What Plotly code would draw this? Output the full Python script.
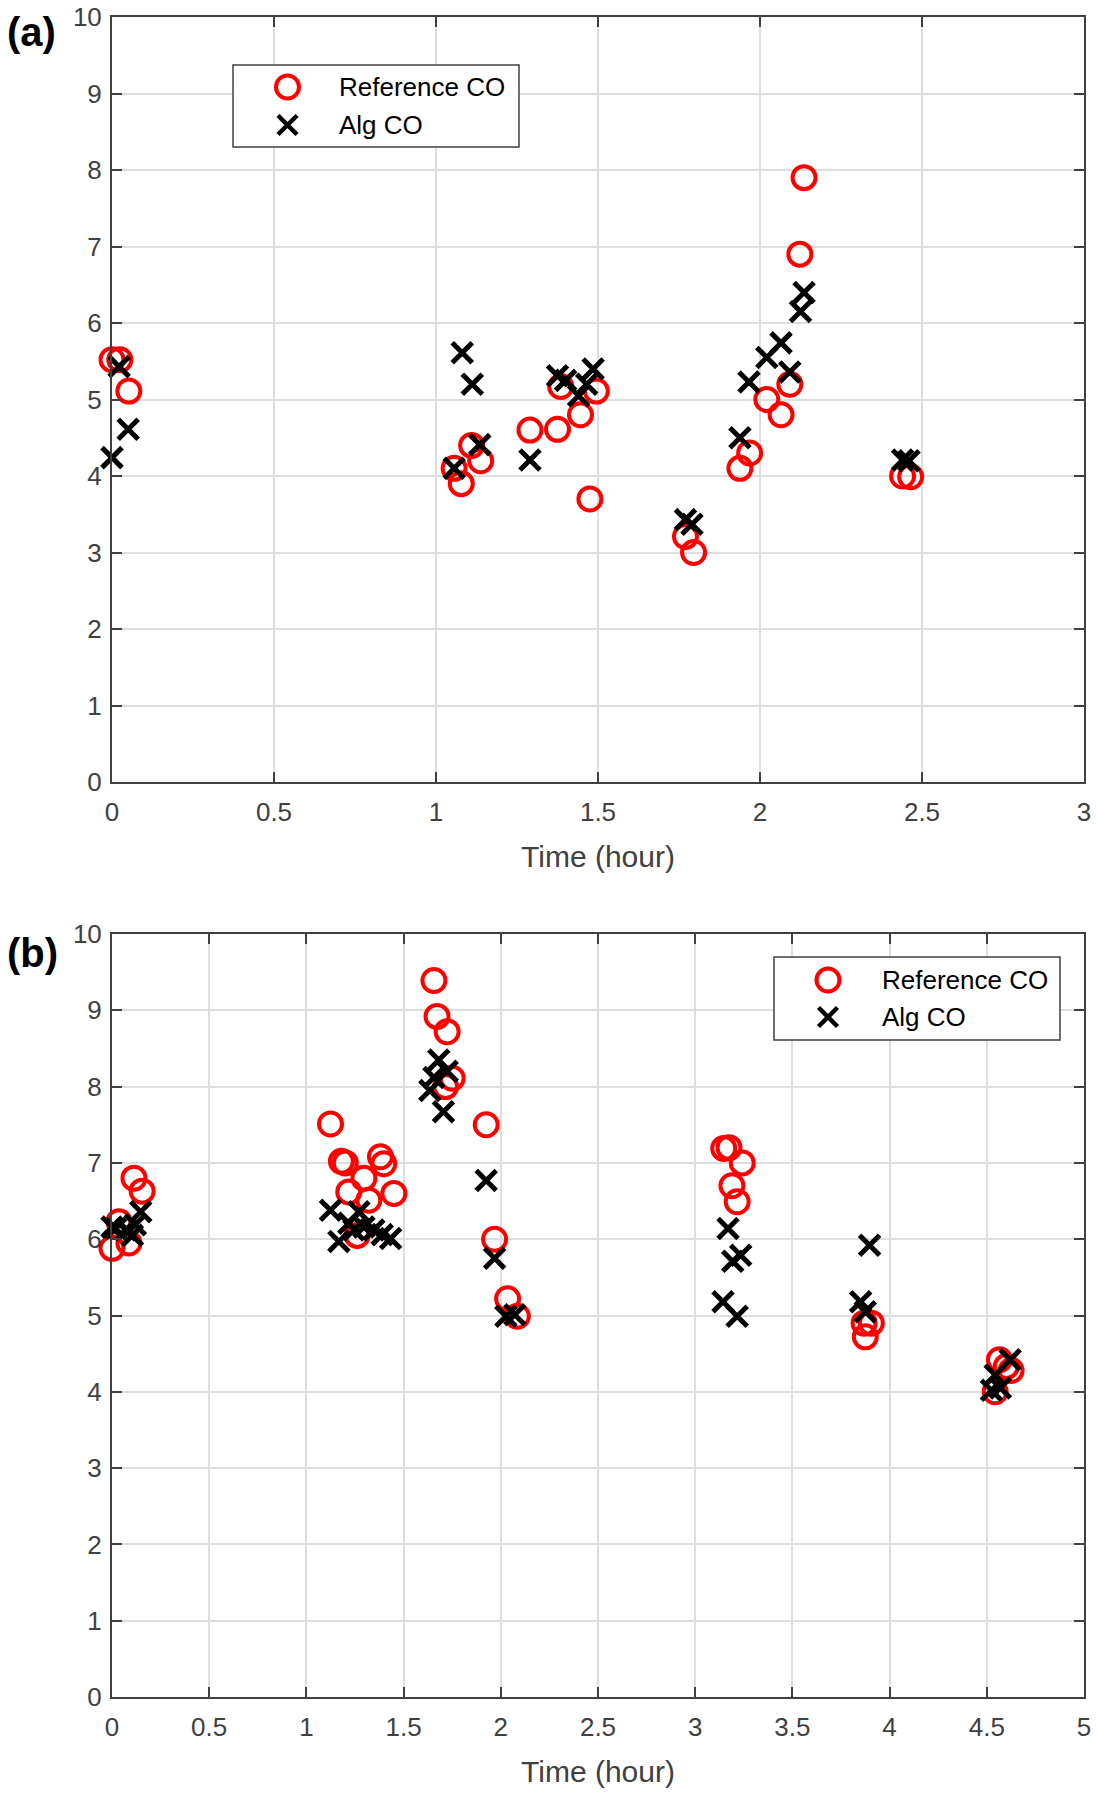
import plotly.graph_objects as go

# ---------------- data ----------------
# Panel (a)
a_ref_time = [0.0, 0.024, 0.052, 1.056, 1.078, 1.11, 1.138, 1.29, 1.375, 1.385, 1.446, 1.475, 1.495,
              1.77, 1.795, 1.938, 1.968, 2.021, 2.065, 2.092, 2.123, 2.136, 2.44, 2.465]
a_ref_co = [5.52, 5.52, 5.11, 4.10, 3.90, 4.40, 4.20, 4.60, 4.61, 5.17, 4.80, 3.70, 5.11,
            3.21, 3.00, 4.10, 4.30, 5.00, 4.80, 5.20, 6.90, 7.90, 4.00, 3.99]
a_alg_time = [0.0, 0.022, 0.05, 1.056, 1.081, 1.112, 1.135, 1.29, 1.375, 1.40, 1.44, 1.465, 1.485,
              1.77, 1.79, 1.938, 1.966, 2.021, 2.065, 2.092, 2.125, 2.136, 2.44, 2.46]
a_alg_co = [4.24, 5.43, 4.61, 4.10, 5.61, 5.20, 4.41, 4.21, 5.31, 5.25, 5.05, 5.20, 5.40,
            3.43, 3.37, 4.50, 5.23, 5.55, 5.74, 5.36, 6.15, 6.40, 4.21, 4.20]

# Panel (b)
b_ref_time = [0.0, 0.036, 0.087, 0.113, 0.155,
              1.124, 1.18, 1.20, 1.218, 1.261, 1.296, 1.321, 1.381, 1.398, 1.45,
              1.656, 1.672, 1.716, 1.724, 1.75,
              1.925, 1.968, 2.035, 2.085,
              3.147, 3.174, 3.189, 3.216, 3.242,
              3.869, 3.875, 3.906,
              4.543, 4.565, 4.60, 4.625]
b_ref_co = [5.88, 6.23, 5.95, 6.80, 6.63,
            7.51, 7.02, 7.00, 6.62, 6.05, 6.80, 6.51, 7.08, 6.99, 6.60,
            9.39, 8.92, 8.00, 8.72, 8.11,
            7.50, 6.00, 5.22, 4.99,
            7.19, 7.20, 6.70, 6.49, 7.00,
            4.90, 4.72, 4.90,
            4.00, 4.42, 4.33, 4.28]
b_alg_time = [0.0, 0.019, 0.07, 0.105, 0.12, 0.148,
              1.124, 1.167, 1.218, 1.244, 1.27, 1.296, 1.347, 1.39, 1.433,
              1.635, 1.656, 1.681, 1.724, 1.705,
              1.925, 1.968, 2.026, 2.072,
              3.143, 3.169, 3.193, 3.216, 3.234,
              3.851, 3.875, 3.897,
              4.524, 4.543, 4.57, 4.62]
b_alg_co = [6.16, 6.14, 6.12, 6.05, 6.19, 6.36,
            6.38, 5.97, 6.21, 6.12, 6.36, 6.16, 6.12, 6.06, 6.01,
            7.95, 8.12, 8.35, 8.20, 7.67,
            6.77, 5.75, 4.99, 5.01,
            5.18, 6.14, 5.71, 4.99, 5.79,
            5.18, 5.05, 5.92,
            4.02, 4.22, 4.05, 4.42]

a_xticks = [0, 0.5, 1, 1.5, 2, 2.5, 3]
b_xticks = [0, 0.5, 1, 1.5, 2, 2.5, 3, 3.5, 4, 4.5, 5]
y_ticks = [0, 1, 2, 3, 4, 5, 6, 7, 8, 9, 10]
series_names = ["Reference CO", "Alg CO"]
panel_labels = ["(a)", "(b)"]
x_title = "Time (hour)"

# ---------------- layout helpers ----------------
W, H = 1098, 1800
ML, MR, MT, MB = 112, 14, 17, 103
PW = W - ML - MR
PH = H - MT - MB


def px_x(px):
    return (px - ML) / PW


def px_y(py):
    return (H - MB - py) / PH


FONT = "Liberation Sans, Arial, sans-serif"
AX_COL = "#404040"
GRID_COL = "#dedede"
RED = "#ff0000"

fig = go.Figure()

ref_marker = dict(symbol="circle-open", size=23, color=RED, line=dict(color=RED, width=4))
alg_marker = dict(symbol="x-thin-open", size=20, color="black", line=dict(color="black", width=5))

fig.add_trace(go.Scatter(x=a_ref_time, y=a_ref_co, mode="markers", name=series_names[0],
                         marker=ref_marker, xaxis="x", yaxis="y", cliponaxis=False, showlegend=False))
fig.add_trace(go.Scatter(x=a_alg_time, y=a_alg_co, mode="markers", name=series_names[1],
                         marker=alg_marker, xaxis="x", yaxis="y", cliponaxis=False, showlegend=False))
fig.add_trace(go.Scatter(x=b_ref_time, y=b_ref_co, mode="markers", name=series_names[0],
                         marker=ref_marker, xaxis="x2", yaxis="y2", cliponaxis=False, showlegend=False))
fig.add_trace(go.Scatter(x=b_alg_time, y=b_alg_co, mode="markers", name=series_names[1],
                         marker=alg_marker, xaxis="x2", yaxis="y2", cliponaxis=False, showlegend=False))

common_ax = dict(
    showgrid=True, gridcolor=GRID_COL, gridwidth=1.5,
    zeroline=False, automargin=False,
    showline=True, linecolor=AX_COL, linewidth=2, mirror="ticks",
    ticks="inside", ticklen=10, tickwidth=1.5, tickcolor=AX_COL,
    tickfont=dict(family=FONT, size=26, color=AX_COL),
)

a_bottom = px_y(782)
b_top = px_y(934)

fig.update_layout(
    width=W, height=H,
    margin=dict(l=ML, r=MR, t=MT, b=MB, pad=0, autoexpand=False),
    paper_bgcolor="white", plot_bgcolor="white",
    font=dict(family=FONT, color="black"),
    showlegend=False,
    xaxis=dict(domain=[0, 1], anchor="y", range=[0, 3], tickvals=a_xticks,
               ticktext=[f"{v:g}" for v in a_xticks], ticklabelstandoff=6,
               title=dict(text=x_title, font=dict(family=FONT, size=30, color=AX_COL), standoff=20),
               **common_ax),
    yaxis=dict(domain=[a_bottom, 1], anchor="x", range=[0, 10], tickvals=y_ticks,
               ticktext=[str(v) for v in y_ticks], ticklabelstandoff=3, **common_ax),
    xaxis2=dict(domain=[0, 1], anchor="y2", range=[0, 5], tickvals=b_xticks,
                ticktext=[f"{v:g}" for v in b_xticks], ticklabelstandoff=6,
                title=dict(text=x_title, font=dict(family=FONT, size=30, color=AX_COL), standoff=20),
                **common_ax),
    yaxis2=dict(domain=[0, b_top], anchor="x2", range=[0, 10], tickvals=y_ticks,
                ticktext=[str(v) for v in y_ticks], ticklabelstandoff=3, **common_ax),
)

shapes = []
annotations = []


def add_legend(box, mark_x, row_y, text_x):
    x0, y0, x1, y1 = box
    shapes.append(dict(type="rect", xref="paper", yref="paper",
                       x0=px_x(x0), x1=px_x(x1), y0=px_y(y1), y1=px_y(y0),
                       line=dict(color=AX_COL, width=1.5), fillcolor="white", layer="above"))
    # circle symbol
    shapes.append(dict(type="circle", xref="paper", yref="paper",
                       xsizemode="pixel", ysizemode="pixel",
                       xanchor=px_x(mark_x), yanchor=px_y(row_y[0]),
                       x0=-11.5, x1=11.5, y0=-11.5, y1=11.5,
                       line=dict(color=RED, width=4), layer="above"))
    # x symbol
    shapes.append(dict(type="path", xref="paper", yref="paper",
                       xsizemode="pixel", ysizemode="pixel",
                       xanchor=px_x(mark_x), yanchor=px_y(row_y[1]),
                       path="M -9.5 -9.5 L 9.5 9.5 M -9.5 9.5 L 9.5 -9.5",
                       line=dict(color="black", width=4.5), layer="above"))
    for name, ry in zip(series_names, row_y):
        annotations.append(dict(xref="paper", yref="paper", x=px_x(text_x), y=px_y(ry),
                                xanchor="left", yanchor="middle", showarrow=False,
                                text=name, font=dict(family=FONT, size=26, color="black")))


add_legend((233, 65, 519, 147), 287.5, (87, 125), 337)
add_legend((774, 957, 1060, 1040), 828, (980, 1017), 880)

for lab, (lx, ly) in zip(panel_labels, [(5, 32), (5, 953)]):
    annotations.append(dict(xref="paper", yref="paper", x=px_x(lx), y=px_y(ly),
                            xanchor="left", yanchor="middle", showarrow=False,
                            text=f"<b>{lab}</b>", font=dict(family=FONT, size=40, color="black")))

fig.update_layout(shapes=shapes, annotations=annotations)

fig.write_html("out.html",
               config={"displayModeBar": False},
               post_script="document.body.style.margin='0px';document.body.style.padding='0px';")
